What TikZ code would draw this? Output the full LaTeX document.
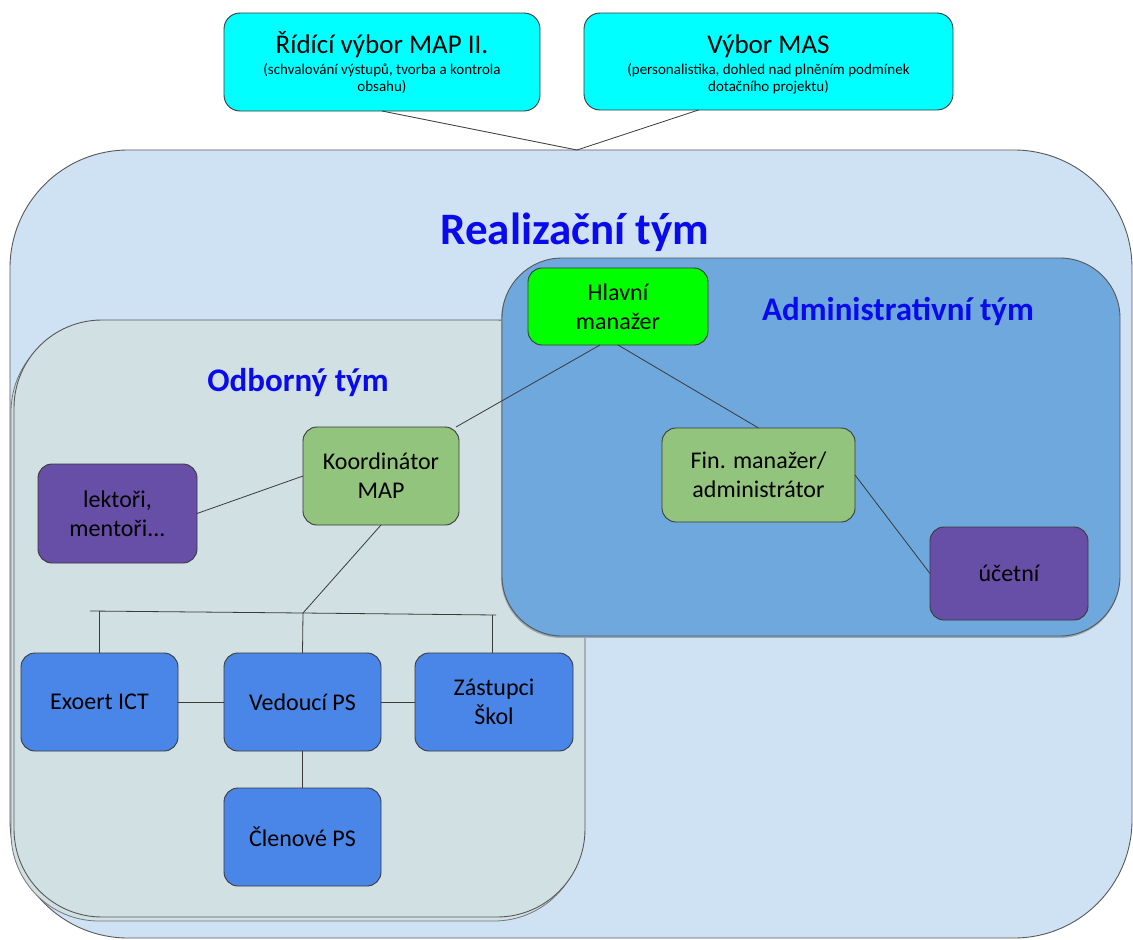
\documentclass[tikz,border=0pt]{standalone}
\usepackage{fontspec}
\setmainfont{Carlito}
\definecolor{cyanbox}{HTML}{00FFFF}
\definecolor{outerbg}{HTML}{CFE2F3}
\definecolor{odbbg}{HTML}{D0E0E3}
\definecolor{admbg}{HTML}{6FA8DC}
\definecolor{hlgreen}{HTML}{00FF00}
\definecolor{ltgreen}{HTML}{93C47D}
\definecolor{purp}{HTML}{674EA7}
\definecolor{bluebox}{HTML}{4A86E8}
\definecolor{titleblue}{HTML}{0A0AEE}
\definecolor{edgec}{HTML}{3A3A3A}
\begin{document}
\begin{tikzpicture}[x=1pt,y=-1pt,
  card/.style={draw=edgec, line width=0.9pt, rounded corners=14pt, align=center,
    inner sep=0pt, outer sep=0pt, font=\fontsize{24}{29}\selectfont},
  topcard/.style={card, fill=cyanbox, rounded corners=16pt},
  toptitle/.style={anchor=base, inner sep=0pt, font=\fontsize{27}{30}\selectfont},
  topsub/.style={anchor=base, inner sep=0pt, font=\fontsize{15}{17}\selectfont},
  region/.style={draw=edgec!85, line width=0.9pt, inner sep=0pt, outer sep=0pt},
  shadowreg/.style={draw=edgec!70, line width=0.8pt, inner sep=0pt, outer sep=0pt},
  conn/.style={draw=edgec, line width=0.8pt},
  teamlabel/.style={text=titleblue, font=\bfseries\fontsize{33}{38}\selectfont}]
\useasboundingbox (0,0) rectangle (1133,940);
% regions
\node[region, fill=outerbg, rounded corners=118pt, minimum width=1122pt, minimum height=788pt] (real) at (571,544) {};
\node[shadowreg, fill=odbbg, rounded corners=88pt, minimum width=571pt, minimum height=597pt] (odbshadow) at (296.5,622.5) {};
\node[region, fill=odbbg, rounded corners=88pt, minimum width=571pt, minimum height=597pt] (odb) at (299.5,618.5) {};
\node[shadowreg, draw=edgec!45, fill=admbg, rounded corners=60pt, minimum width=618pt, minimum height=378pt] (admshadow) at (810.5,448.5) {};
\node[region, fill=admbg, rounded corners=60pt, minimum width=618pt, minimum height=378pt] (adm) at (811,447) {};
% labels
\node[text=titleblue, font=\bfseries\fontsize{45}{50}\selectfont] (realLbl) at (575,232) {Realizační tým};
\node[teamlabel] (odbLbl) at (298,383) {Odborný tým};
\node[teamlabel] (admLbl) at (898,311) {Administrativní tým};
% top boxes
\node[topcard, minimum width=316pt, minimum height=98pt] (ridici) at (382,62) {};
\node[toptitle] (ridiciT) at (382,53) {Řídící výbor MAP II.};
\node[topsub] (ridiciS1) at (382,74) {(schvalování výstupů, tvorba a kontrola};
\node[topsub] (ridiciS2) at (382,91) {obsahu)};
\node[topcard, minimum width=369pt, minimum height=97pt] (vybor) at (768.5,61.5) {};
\node[toptitle] (vyborT) at (768.5,53) {Výbor MAS};
\node[topsub] (vyborS1) at (768.5,74) {(personalistika, dohled nad plněním podmínek};
\node[topsub] (vyborS2) at (768.5,91) {dotačního projektu)};
\coordinate (apex) at (577,150);
\draw[conn] (ridici.south) -- (apex) -- ([xshift=-70pt]vybor.south);
% admin team
\node[card, fill=hlgreen, minimum width=180pt, minimum height=77pt] (hlavni) at (618,306.5) {Hlavní\\manažer};
\node[card, fill=ltgreen, minimum width=193pt, minimum height=94pt] (fin) at (758.5,475) {Fin. manažer/\\administrátor};
\node[card, fill=purp, minimum width=158pt, minimum height=93pt] (ucetni) at (1009,573.5) {účetní};
% expert team
\node[card, fill=ltgreen, minimum width=156pt, minimum height=98pt] (koord) at (381,476) {Koordinátor\\MAP};
\node[card, fill=purp, minimum width=159pt, minimum height=99pt] (lektori) at (117.5,513.5) {lektoři,\\mentoři...};
\node[card, fill=bluebox, minimum width=157pt, minimum height=98pt] (exoert) at (99.5,702) {Exoert ICT};
\node[card, fill=bluebox, minimum width=157pt, minimum height=98pt] (vedouci) at (302.5,702) {Vedoucí PS};
\node[card, fill=bluebox, minimum width=158pt, minimum height=98pt] (zastupci) at (494,702) {Zástupci\\Škol};
\node[card, fill=bluebox, minimum width=157pt, minimum height=98pt] (clenove) at (302.5,837) {Členové PS};
% connectors
\draw[conn] ([xshift=-3pt]koord.north east) -- ([xshift=-18pt]hlavni.south);
\draw[conn] (hlavni.south) -- (fin.north);
\draw[conn] (fin.east) -- (ucetni.west);
\draw[conn] (lektori.east) -- (koord.west);
\coordinate (busL) at (90,611);
\coordinate (busM) at (303,613);
\coordinate (busR) at (496,615);
\draw[conn] (koord.south) -- (busM);
\draw[conn] (busL) -- (busM) -- (busR);
\draw[conn] (exoert.north |- busL) -- (exoert.north);
\draw[conn] (busM) -- (vedouci.north);
\draw[conn] ([xshift=-2pt]zastupci.north |- busR) -- ([xshift=-2pt]zastupci.north);
\draw[conn] (exoert.east) -- (vedouci.west);
\draw[conn] (vedouci.east) -- (zastupci.west);
\draw[conn] (vedouci.south) -- (clenove.north);
\end{tikzpicture}
\end{document}
